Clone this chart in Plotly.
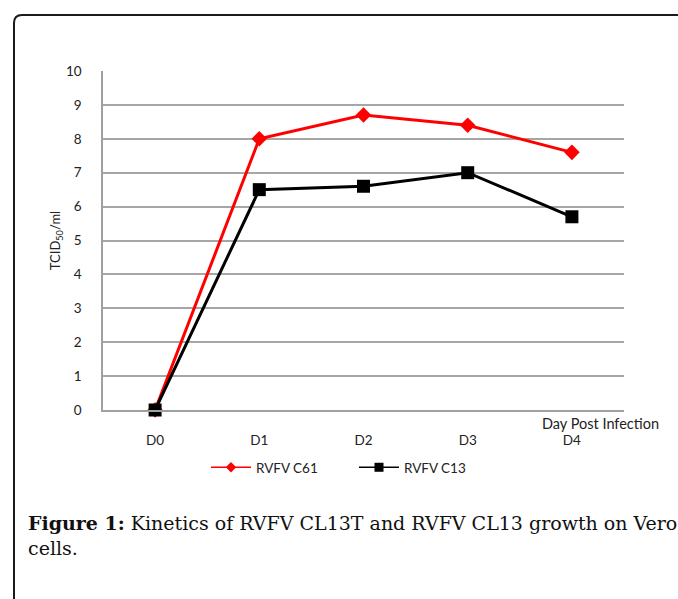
import plotly.graph_objects as go

days = ["D0", "D1", "D2", "D3", "D4"]
c61 = [0, 8.0, 8.7, 8.4, 7.6]
c13 = [0, 6.5, 6.6, 7.0, 5.7]
yticks = list(range(0, 11))

W, H = 678, 599
L, R, T, B = 103, 624, 71, 410


def px(x):
    return (x - L) / (R - L)


def py(y):
    return (B - y) / (B - T)


FONT = "Lato, Liberation Sans, sans-serif"
axis_font = dict(family=FONT, size=13.5, color="#222222")

fig = go.Figure()
fig.add_trace(go.Scatter(
    x=list(range(len(days))), y=c61, name="RVFV C61", mode="lines+markers",
    line=dict(color="#ff0000", width=3),
    marker=dict(symbol="diamond", size=12, color="#ff0000"),
    cliponaxis=False, showlegend=False,
))
fig.add_trace(go.Scatter(
    x=list(range(len(days))), y=c13, name="RVFV C13", mode="lines+markers",
    line=dict(color="#000000", width=3),
    marker=dict(symbol="square", size=13, color="#000000"),
    cliponaxis=False, showlegend=False,
))
# legend entries (smaller symbols as in the reference legend)
fig.add_trace(go.Scatter(
    x=[None], y=[None], name="RVFV C61", mode="lines+markers",
    line=dict(color="#ff0000", width=1.5),
    marker=dict(symbol="diamond", size=8, color="#ff0000"),
))
fig.add_trace(go.Scatter(
    x=[None], y=[None], name="RVFV C13", mode="lines+markers",
    line=dict(color="#000000", width=1.5),
    marker=dict(symbol="square", size=9, color="#000000"),
))

fig.update_xaxes(
    range=[-0.5, 4.5], tickmode="array", tickvals=list(range(len(days))), ticktext=days,
    showgrid=False, showline=True, linecolor="#a0a0a0", linewidth=1.5,
    zeroline=False, ticks="", tickfont=axis_font, ticklabelstandoff=17,
)
fig.update_yaxes(
    range=[0, 10], tickmode="array", tickvals=yticks,
    showgrid=True, gridcolor="#a6a6a6", gridwidth=1.5,
    showline=True, linecolor="#a0a0a0", linewidth=1.5,
    zeroline=False, ticks="", tickfont=axis_font, ticklabelstandoff=17,
    title=dict(text="TCID<sub>50</sub>/ml", font=dict(family=FONT, size=13, color="#222222"), standoff=2),
)

r = 8
x0, y0 = px(14), py(15)
xr, yb = px(700), py(640)
xc = px(14 + r)
yc = py(15 + r)
path = f"M {x0},{yb} L {x0},{yc} Q {x0},{y0} {xc},{y0} L {xr},{y0}"

fig.update_layout(
    width=W, height=H,
    margin=dict(l=L, r=W - R, t=T, b=H - B, autoexpand=False),
    paper_bgcolor="white", plot_bgcolor="white",
    showlegend=True,
    legend=dict(
        orientation="h", x=px(206), y=py(452), xanchor="left", yanchor="top",
        font=axis_font, bgcolor="rgba(0,0,0,0)", itemwidth=40,
        entrywidth=93, entrywidthmode="pixels",
    ),
    shapes=[dict(type="path", path=path, xref="paper", yref="paper",
                 line=dict(color="#1a1a1a", width=2))],
    annotations=[
        dict(text="Day Post Infection", x=px(540), y=py(423), xref="paper", yref="paper",
             xanchor="left", yanchor="middle", showarrow=False,
             font=dict(family=FONT, size=14.5, color="#222222")),
        dict(text="<b>Figure 1:</b> Kinetics of RVFV CL13T and RVFV CL13 growth on Vero<br>cells.",
             x=px(26), y=py(510), xref="paper", yref="paper",
             xanchor="left", yanchor="top", align="left", showarrow=False,
             font=dict(family="DejaVu Serif, Liberation Serif, serif", size=19, color="#111111")),
    ],
)

fig.write_html("out.html", config={"displayModeBar": False},
               post_script="document.body.style.margin='0';")
